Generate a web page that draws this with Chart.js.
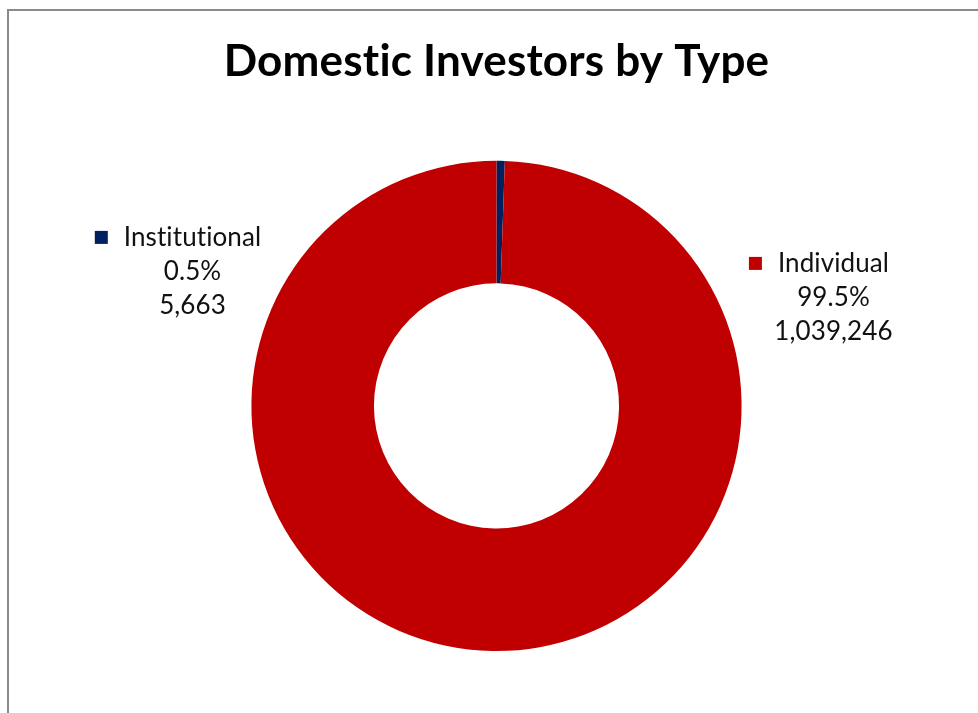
<!DOCTYPE html>
<html>
<head>
<meta charset="utf-8">
<title>Domestic Investors by Type</title>
<script src="https://cdn.jsdelivr.net/npm/chart.js@4/dist/chart.umd.min.js"></script>
<style>
  html, body { margin: 0; padding: 0; background: #fff; }
  body { width: 978px; height: 713px; position: relative; overflow: hidden; }
  #frame {
    position: absolute; left: 7px; top: 9px; right: -10px; bottom: -10px;
    border-left: 2px solid #8a8a8a; border-top: 2px solid #8a8a8a;
  }
  #wrap { position: absolute; left: 0; top: 0; width: 978px; height: 713px; }
</style>
</head>
<body>
<div id="frame"></div>
<div id="wrap"><canvas id="chart"></canvas></div>
<script>
const investorTypes = ['Institutional', 'Individual'];
const investorCounts = [5663, 1039246];
const sliceColors = ['#002060', '#C00000'];

// where each slice's label block sits, relative to the doughnut centre
const labelSpots = [
  { dx: -304, dy: -168 },
  { dx: 337, dy: -142 }
];

const FONT = 'Lato, "Open Sans", sans-serif';

// a hair of letter spacing keeps Lato from swapping in its "ti" ligature
const noLigatures = {
  id: 'noLigatures',
  beforeDraw(chart) {
    chart.ctx.letterSpacing = '0.2px';
  }
};

const sliceLabels = {
  id: 'sliceLabels',
  afterDatasetsDraw(chart) {
    const ctx = chart.ctx;
    const meta = chart.getDatasetMeta(0);
    const total = investorCounts.reduce((a, b) => a + b, 0);
    ctx.save();
    ctx.letterSpacing = '0.1px';
    ctx.font = '26px ' + FONT;
    ctx.fillStyle = '#111';
    ctx.textAlign = 'center';
    ctx.textBaseline = 'middle';
    meta.data.forEach((arc, i) => {
      const spot = labelSpots[i];
      const x = arc.x + spot.dx;
      const y = arc.y + spot.dy;
      const pct = (investorCounts[i] / total * 100).toFixed(1) + '%';
      const lines = [investorTypes[i], pct, investorCounts[i].toLocaleString('en-US')];
      lines.forEach((t, j) => ctx.fillText(t, x, y + j * 34));
      // legend key in front of the category name
      const w = ctx.measureText(investorTypes[i]).width;
      ctx.fillStyle = sliceColors[i];
      ctx.fillRect(x - w / 2 - 29, y - 7, 13, 13);
      ctx.fillStyle = '#111';
    });
    ctx.restore();
  }
};

new Chart(document.getElementById('chart'), {
  type: 'doughnut',
  data: {
    labels: investorTypes,
    datasets: [{
      data: investorCounts,
      backgroundColor: sliceColors,
      borderWidth: 0
    }]
  },
  options: {
    responsive: true,
    maintainAspectRatio: false,
    animation: false,
    cutout: '50%',
    layout: { padding: { top: 0, left: 15, right: 0, bottom: 62 } },
    plugins: {
      legend: { display: false },
      tooltip: { enabled: false },
      title: {
        display: true,
        text: 'Domestic Investors by Type',
        color: '#000',
        font: { family: FONT, size: 44, weight: 'bold', lineHeight: 1.2 },
        padding: { top: 35, bottom: 73 }
      }
    }
  },
  plugins: [noLigatures, sliceLabels]
});
</script>
</body>
</html>
